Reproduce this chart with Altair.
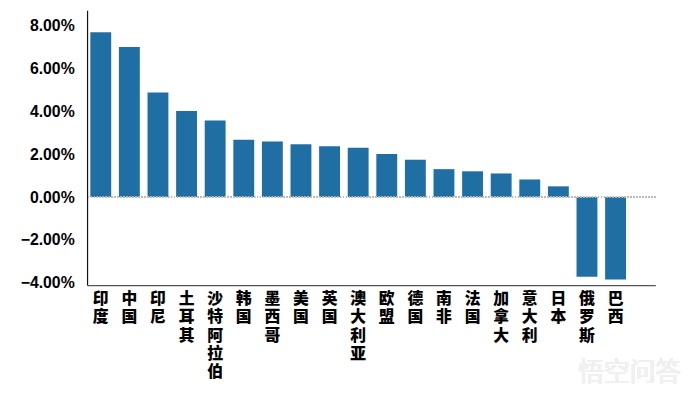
import altair as alt
import pandas as pd

countries = ["印度", "中国", "印尼", "土耳其", "沙特阿拉伯", "韩国", "墨西哥", "美国", "英国",
             "澳大利亚", "欧盟", "德国", "南非", "法国", "加拿大", "意大利", "日本", "俄罗斯", "巴西"]
growth = [7.68, 6.99, 4.87, 4.01, 3.57, 2.67, 2.59, 2.46, 2.37,
          2.30, 2.01, 1.74, 1.30, 1.20, 1.10, 0.82, 0.50, -3.71, -3.84]
y_ticks = [-4, -2, 0, 2, 4, 6, 8]

df = pd.DataFrame({"country": countries, "value": [v / 100 for v in growth]})

W, H = 575, 278

x = alt.X("country:N", sort=countries,
          scale=alt.Scale(paddingInner=0.27, paddingOuter=0.57, align=0.1),
          axis=alt.Axis(title=None, labelAngle=0, labelExpr="split(datum.label, '')",
                        labelFont="Noto Sans CJK SC", labelFontWeight=900, labelFontSize=16,
                        labelLineHeight=18.3, labelColor="#000000", labelBaseline="top",
                        labelPadding=6, ticks=False, domainColor="#555555", domainWidth=1.2,
                        labelAlign="center"))

y = alt.Y("value:Q",
          scale=alt.Scale(domain=[-0.041, 0.087], nice=False, zero=False),
          axis=alt.Axis(title=None, format=".2%", values=[t / 100 for t in y_ticks],
                        grid=False, ticks=False, labelFont="Liberation Sans",
                        labelFontWeight="bold", labelFontSize=16, labelColor="#000000",
                        labelPadding=13, domainColor="#111111", domainWidth=1.2))

bars = alt.Chart(df).mark_bar(color="#1f6fa5").encode(x=x, y=y)

zero = alt.Chart(df).mark_rule(color="#bbbbbb", strokeDash=[1, 2], strokeWidth=1).encode(
    y=alt.datum(0)
)

watermark = alt.Chart(df).mark_text(
    text="悟空问答", font="Noto Sans CJK SC", fontSize=26, color="#f0f0f0",
    align="left", baseline="middle"
).encode(x=alt.value(497), y=alt.value(367))

chart = alt.layer(bars, zero, watermark).properties(
    width=W, height=H,
    autosize=alt.AutoSizeParams(type="none"),
    padding={"left": 80, "top": 0, "right": 30, "bottom": 120},
).configure(background="#ffffff", view=alt.ViewConfig(stroke=None))

chart.save("out.html", embed_options={"renderer": "svg", "actions": False})
